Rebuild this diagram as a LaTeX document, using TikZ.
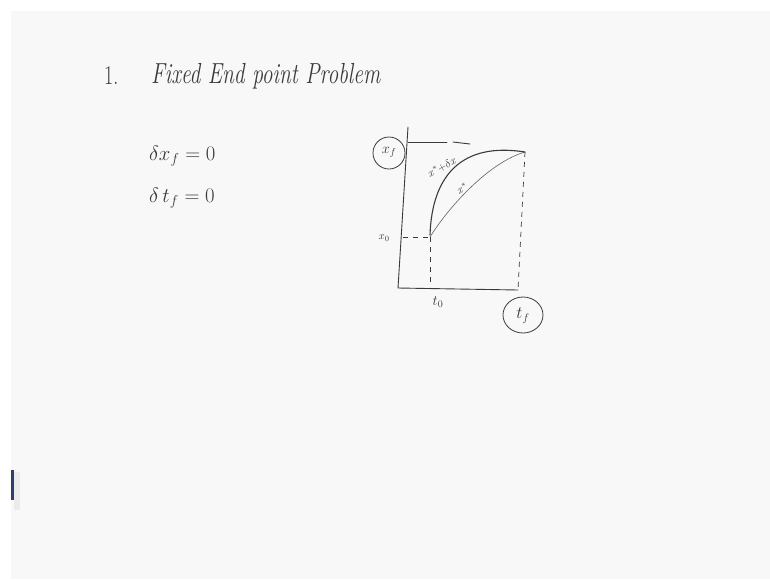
\documentclass[tikz,border=0pt]{standalone}
\usetikzlibrary{calc,shapes.geometric}
\definecolor{ink}{HTML}{3A3A3A}
\definecolor{board}{HTML}{F8F8F8}
\definecolor{clipblue}{HTML}{2E3E6E}
\tikzset{
  pen/.style={draw=ink, line width=0.9pt, line cap=round},
  thinpen/.style={draw=ink!80, line width=0.6pt, line cap=round},
  dashpen/.style={draw=ink, line width=0.7pt, dash pattern=on 5pt off 5pt},
  hand/.style={text=ink, inner sep=0pt},
  ring/.style={draw=ink, line width=0.8pt, ellipse}
}
\begin{document}
\begin{tikzpicture}[x=1pt,y=-1pt]
\useasboundingbox (0,0) rectangle (770,579);
\fill[white] (0,0) rectangle (770,579);
\fill[board] (11,11) rectangle (770,579);
\fill[black!8] (14,472) rectangle (20,510);
\fill[clipblue] (11,470) rectangle (14,500);

% title
\node[hand, anchor=west] (num) at (104,76) {\scalebox{1}[1.35]{\fontsize{20}{24}\selectfont 1.}};
\node[hand, anchor=west] (title) at (151,76) {\scalebox{1}[1.35]{\fontsize{21.5}{24}\selectfont\itshape Fixed End point Problem}};

% conditions
\node[hand, anchor=west] (eq1) at (149,156) {\fontsize{21}{24}\selectfont $\delta x_f = 0$};
\node[hand, anchor=west] (eq2) at (149,198) {\fontsize{21}{24}\selectfont $\delta\, t_f = 0$};

% axes
\coordinate (ytop) at (408,127);
\coordinate (O) at (398,288);
\coordinate (xend) at (518,290);
\draw[pen] (ytop) -- (O) -- (xend);

% top level line
\coordinate (xfL) at (408,142);
\coordinate (xfM) at (447,142);
\coordinate (xfD) at (453,142);
\coordinate (xfR) at (470,144);
\draw[pen] (xfL) -- (xfM);
\draw[pen] (xfD) -- (xfR);

% end point and start point
\coordinate (E) at (525,152);
\coordinate (Ebot) at (518,290);
\coordinate (S) at (430,237);
\coordinate (Sbot) at (430,287);
\coordinate (Sax) at (403,237);
\draw[dashpen] (E) -- (Ebot);
\draw[dashpen] (S) -- (Sbot);
\draw[dashpen] (Sax) -- (S);

% curves
\draw[thinpen] (S) .. controls (450,205) and (490,162) .. (E);
\draw[pen, line width=1.1pt] (430,235) .. controls (432,175) and (462,142) .. (E);

% labels
\node[hand] (xstarlab) at (462,188) [rotate=30] {\fontsize{11}{13}\selectfont $x^{*}$};
\node[hand] (xdlab) at (442,167) [rotate=28] {\fontsize{11}{13}\selectfont $x^{*}{+}\delta x$};
\node[hand] (x0lab) at (384,238) {\fontsize{11}{13}\selectfont $x_0$};
\node[hand] (t0lab) at (438,302) {\fontsize{14}{16}\selectfont $t_0$};

\node[hand] (xflab) at (389,152) {\fontsize{14}{16}\selectfont $x_f$};
\node[ring, minimum width=32pt, minimum height=32pt] (xfring) at (389,153) {};
\node[hand] (tflab) at (523,316) {\fontsize{16}{18}\selectfont $t_f$};
\node[ring, minimum width=40pt, minimum height=36pt] (tfring) at (523,315) {};
\end{tikzpicture}
\end{document}
